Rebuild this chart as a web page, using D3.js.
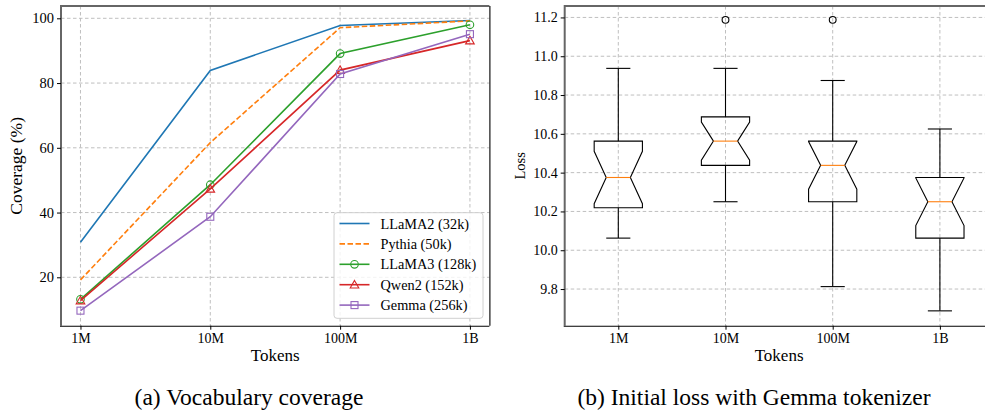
<!DOCTYPE html>
<html>
<head>
<meta charset="utf-8">
<script src="https://cdn.jsdelivr.net/npm/d3@7"></script>
<style>
  body { margin: 0; background: #fff; }
  svg { display: block; font-family: "Liberation Serif", "DejaVu Serif", serif; }
</style>
</head>
<body>
<svg id="chart" width="985" height="412"></svg>
<script>
// tokens seen
const tokenLabels = ['1M', '10M', '100M', '1B'];
const tokenCounts = [1e6, 1e7, 1e8, 1e9];

// (a) vocabulary coverage, %
const seriesNames = ['LLaMA2 (32k)', 'Pythia (50k)', 'LLaMA3 (128k)', 'Qwen2 (152k)', 'Gemma (256k)'];
const llama2 = [30.8, 83.9, 97.8, 99.3];
const pythia = [19.2, 61.6, 97.1, 99.2];
const llama3 = [13.2, 48.6, 89.1, 98.0];
const qwen2 = [12.8, 47.3, 84.0, 93.1];
const gemma = [9.7, 38.7, 82.8, 95.1];
const coverageTicks = [20, 40, 60, 80, 100];

// (b) initial loss box stats
const lossMedian = [10.375, 10.5625, 10.4375, 10.25];
const lossQ1 = [10.21875, 10.4375, 10.25, 10.0625];
const lossQ3 = [10.5625, 10.6875, 10.5625, 10.375];
const lossWhiskerLow = [10.0625, 10.25, 9.8125, 9.6875];
const lossWhiskerHigh = [10.9375, 10.9375, 10.875, 10.625];
const lossNotch = [0.135, 0.098, 0.123, 0.123];
const lossFliers = [[], [11.1875], [11.1875], []];
const lossTicks = [9.8, 10.0, 10.2, 10.4, 10.6, 10.8, 11.0, 11.2];

const svg = d3.select('#chart');
const gridColor = '#b8b8b8';

function frame(g, x0, x1, y0, y1, drawRight) {
  g.append('line').attr('x1', x0).attr('x2', x0).attr('y1', y0 - 1).attr('y2', y1)
    .attr('stroke', '#666').attr('stroke-width', 2);
  g.append('line').attr('x1', x0).attr('x2', x1).attr('y1', y0).attr('y2', y0)
    .attr('stroke', '#666').attr('stroke-width', 2);
  g.append('line').attr('x1', x0 - 1).attr('x2', x1).attr('y1', y1 + 0.5).attr('y2', y1 + 0.5)
    .attr('stroke', '#000').attr('stroke-width', 1.1);
  if (drawRight) {
    g.append('line').attr('x1', x1 + 0.5).attr('x2', x1 + 0.5).attr('y1', y0).attr('y2', y1)
      .attr('stroke', '#000').attr('stroke-width', 1.1);
  }
}

function styleAxis(ax, fontSize) {
  ax.select('.domain').remove();
  ax.selectAll('.tick line').attr('stroke', '#000').attr('stroke-width', 1);
  ax.selectAll('.tick text').attr('font-size', fontSize).attr('fill', '#000')
    .attr('font-family', '"Liberation Serif", serif');
}

// ---------- (a) coverage ----------
const A = { left: 61, right: 489.4, top: 6, bottom: 325.7 };
const xa = d3.scaleLog().domain([Math.pow(10, 5.85), Math.pow(10, 9.15)]).range([A.left, A.right]);
const ya = d3.scaleLinear().domain([5.05, 103.8]).range([A.bottom, A.top]);
const ga = svg.append('g');

ga.append('g').selectAll('line').data(coverageTicks).join('line')
  .attr('x1', A.left).attr('x2', A.right).attr('y1', d => ya(d)).attr('y2', d => ya(d))
  .attr('stroke', gridColor).attr('stroke-dasharray', '3.5,2.5').attr('stroke-width', 0.9);
ga.append('g').selectAll('line').data(tokenCounts).join('line')
  .attr('x1', d => xa(d)).attr('x2', d => xa(d)).attr('y1', A.top).attr('y2', A.bottom)
  .attr('stroke', gridColor).attr('stroke-dasharray', '3.5,2.5').attr('stroke-width', 0.9);

const colors = ['#1f77b4', '#ff7f0e', '#2ca02c', '#d62728', '#9467bd'];
const markers = [null, null, 'circle', 'triangle', 'square'];
const dashes = [null, '5.5,2.5', null, null, null];
const allSeries = [llama2, pythia, llama3, qwen2, gemma];

function drawMarker(g, type, cx, cy, color) {
  if (type === 'circle') {
    g.append('circle').attr('cx', cx).attr('cy', cy).attr('r', 3.8)
      .attr('fill', 'none').attr('stroke', color).attr('stroke-width', 1.1);
  } else if (type === 'triangle') {
    const s = 4.3;
    g.append('path').attr('d', `M${cx},${cy - s}L${cx + s},${cy + s * 0.75}L${cx - s},${cy + s * 0.75}Z`)
      .attr('fill', 'none').attr('stroke', color).attr('stroke-width', 1.1);
  } else if (type === 'square') {
    g.append('rect').attr('x', cx - 3.5).attr('y', cy - 3.5).attr('width', 7).attr('height', 7)
      .attr('fill', 'none').attr('stroke', color).attr('stroke-width', 1.1);
  }
}

const line = d3.line().x((d, i) => xa(tokenCounts[i])).y(d => ya(d));
allSeries.forEach((vals, k) => {
  const p = ga.append('path').attr('d', line(vals)).attr('fill', 'none')
    .attr('stroke', colors[k]).attr('stroke-width', 1.6);
  if (dashes[k]) p.attr('stroke-dasharray', dashes[k]);
  if (markers[k]) vals.forEach((v, i) => drawMarker(ga, markers[k], xa(tokenCounts[i]), ya(v), colors[k]));
});

frame(ga, A.left, A.right, A.top, A.bottom, true);

const axA = ga.append('g').attr('transform', `translate(0,${A.bottom})`)
  .call(d3.axisBottom(xa).tickValues(tokenCounts).tickFormat((d, i) => tokenLabels[i]).tickSize(4).tickPadding(3));
styleAxis(axA, 14);
const ayA = ga.append('g').attr('transform', `translate(${A.left},0)`)
  .call(d3.axisLeft(ya).tickValues(coverageTicks).tickSize(4).tickPadding(3));
styleAxis(ayA, 14.5);

ga.append('text').attr('x', (A.left + A.right) / 2).attr('y', 361).attr('text-anchor', 'middle')
  .attr('font-size', 17).text('Tokens');
ga.append('text').attr('transform', `translate(22,${(A.top + A.bottom) / 2}) rotate(-90)`)
  .attr('text-anchor', 'middle').attr('font-size', 17.5).text('Coverage (%)');

// legend
const lg = ga.append('g');
lg.append('rect').attr('x', 334).attr('y', 212.7).attr('width', 149).attr('height', 105.6)
  .attr('rx', 3).attr('fill', 'rgba(255,255,255,0.8)').attr('stroke', '#d0d0d0').attr('stroke-width', 1);
seriesNames.forEach((name, k) => {
  const cy = 223.5 + k * 20.4;
  const l = lg.append('line').attr('x1', 339.5).attr('x2', 369.5).attr('y1', cy).attr('y2', cy)
    .attr('stroke', colors[k]).attr('stroke-width', 1.6);
  if (dashes[k]) l.attr('stroke-dasharray', dashes[k]);
  if (markers[k]) drawMarker(lg, markers[k], 354.5, cy, colors[k]);
  lg.append('text').attr('x', 380.5).attr('y', cy + 5).attr('font-size', 14.3).text(name);
});

// ---------- (b) initial loss ----------
const B = { left: 564.7, right: 993.5, top: 6, bottom: 325.7 };
const positions = [1, 2, 3, 4];
const xb = d3.scaleLinear().domain([0.5, 4.5]).range([B.left, B.right]);
const yb = d3.scaleLinear().domain([9.611, 11.259]).range([B.bottom, B.top]);
const gb = svg.append('g');

gb.append('g').selectAll('line').data(lossTicks).join('line')
  .attr('x1', B.left).attr('x2', B.right).attr('y1', d => yb(d)).attr('y2', d => yb(d))
  .attr('stroke', gridColor).attr('stroke-dasharray', '3.5,2.5').attr('stroke-width', 0.9);
gb.append('g').selectAll('line').data(positions).join('line')
  .attr('x1', d => xb(d)).attr('x2', d => xb(d)).attr('y1', B.top).attr('y2', B.bottom)
  .attr('stroke', gridColor).attr('stroke-dasharray', '3.5,2.5').attr('stroke-width', 0.9);

const boxW = 0.45;
positions.forEach((p, i) => {
  const l = xb(p - boxW / 2), r = xb(p + boxW / 2);
  const il = xb(p - boxW / 4), ir = xb(p + boxW / 4);
  const q1 = yb(lossQ1[i]), q3 = yb(lossQ3[i]), med = yb(lossMedian[i]);
  const nlo = yb(lossMedian[i] - lossNotch[i]), nhi = yb(lossMedian[i] + lossNotch[i]);
  const cx = xb(p);
  // whiskers and caps
  [[q1, yb(lossWhiskerLow[i])], [q3, yb(lossWhiskerHigh[i])]].forEach(([a, b]) => {
    gb.append('line').attr('x1', cx).attr('x2', cx).attr('y1', a).attr('y2', b)
      .attr('stroke', '#000').attr('stroke-width', 1.1);
    gb.append('line').attr('x1', il).attr('x2', ir).attr('y1', b).attr('y2', b)
      .attr('stroke', '#000').attr('stroke-width', 1.1);
  });
  const path = d3.path();
  path.moveTo(l, q1); path.lineTo(l, nlo); path.lineTo(il, med); path.lineTo(l, nhi);
  path.lineTo(l, q3); path.lineTo(r, q3); path.lineTo(r, nhi); path.lineTo(ir, med);
  path.lineTo(r, nlo); path.lineTo(r, q1); path.closePath();
  gb.append('path').attr('d', path.toString()).attr('fill', 'none')
    .attr('stroke', '#000').attr('stroke-width', 1.1).attr('stroke-linejoin', 'miter');
  gb.append('line').attr('x1', il).attr('x2', ir).attr('y1', med).attr('y2', med)
    .attr('stroke', '#ff7f0e').attr('stroke-width', 1.1);
  lossFliers[i].forEach(f => {
    gb.append('circle').attr('cx', cx).attr('cy', yb(f)).attr('r', 3.4)
      .attr('fill', 'none').attr('stroke', '#000').attr('stroke-width', 1.1);
  });
});

frame(gb, B.left, B.right, B.top, B.bottom, false);

const axB = gb.append('g').attr('transform', `translate(0,${B.bottom})`)
  .call(d3.axisBottom(xb).tickValues(positions).tickFormat((d, i) => tokenLabels[i]).tickSize(4).tickPadding(3));
styleAxis(axB, 14);
const ayB = gb.append('g').attr('transform', `translate(${B.left},0)`)
  .call(d3.axisLeft(yb).tickValues(lossTicks).tickFormat(d3.format('.1f')).tickSize(4).tickPadding(3));
styleAxis(ayB, 14);

gb.append('text').attr('x', (B.left + B.right) / 2).attr('y', 361).attr('text-anchor', 'middle')
  .attr('font-size', 17).text('Tokens');
gb.append('text').attr('transform', `translate(525,${(B.top + B.bottom) / 2}) rotate(-90)`)
  .attr('text-anchor', 'middle').attr('font-size', 14.5).text('Loss');

// captions
svg.append('text').attr('x', 249).attr('y', 405).attr('text-anchor', 'middle')
  .attr('font-size', 23.5).text('(a) Vocabulary coverage');
svg.append('text').attr('x', 754).attr('y', 405).attr('text-anchor', 'middle')
  .attr('font-size', 23.5).text('(b) Initial loss with Gemma tokenizer');
</script>
</body>
</html>
